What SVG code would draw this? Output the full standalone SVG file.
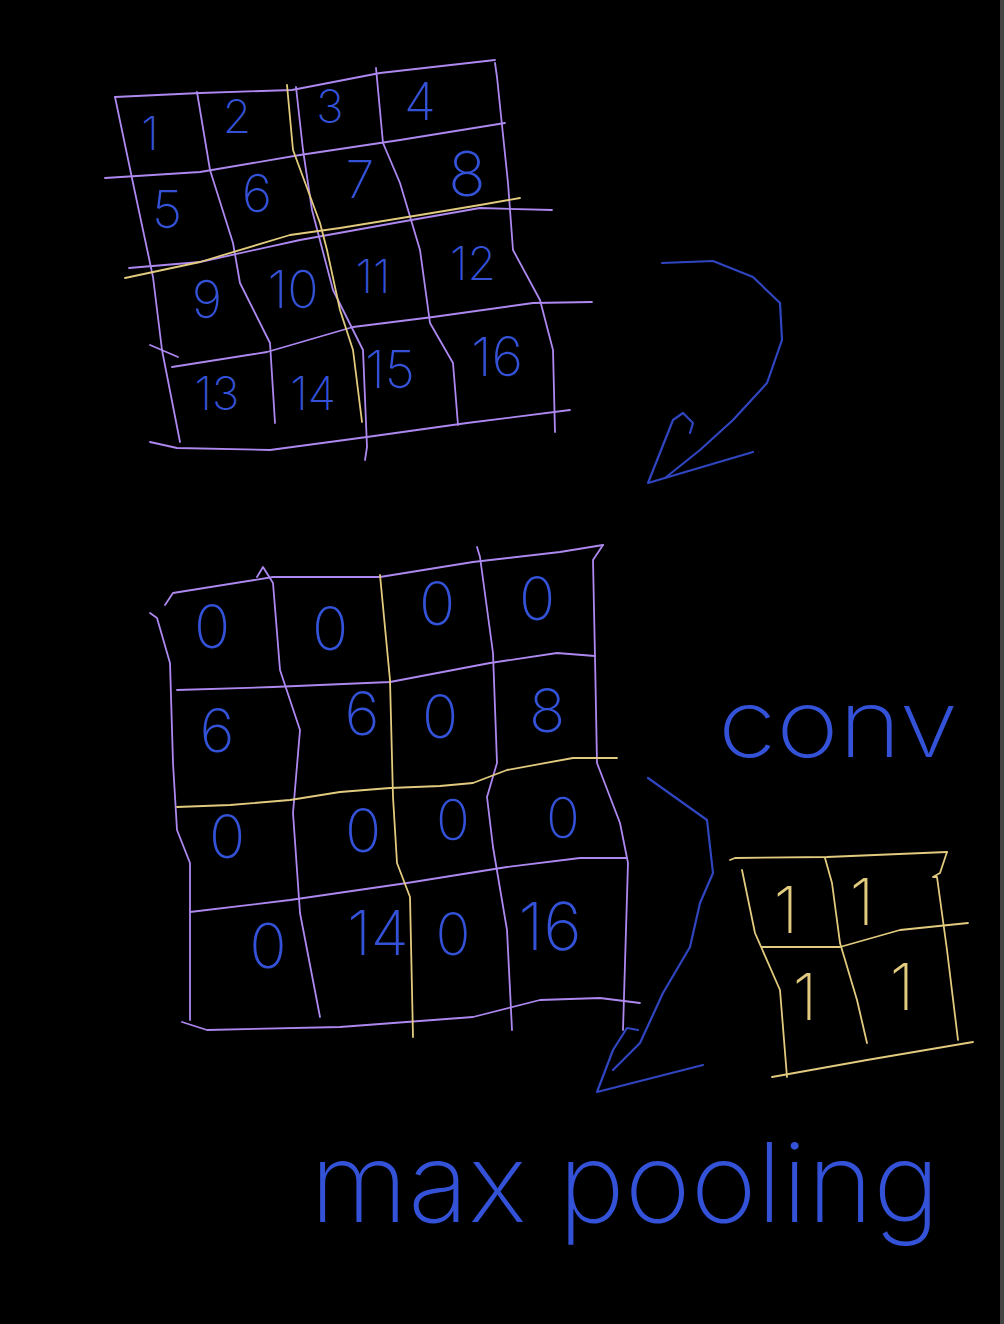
<svg xmlns="http://www.w3.org/2000/svg" width="1004" height="1324" viewBox="0 0 1004 1324">
<style>
.p{fill:none;stroke:#ad88f0;stroke-width:1.8;stroke-linecap:round;stroke-linejoin:round}
.y{fill:none;stroke:#e2cb7e;stroke-width:1.8;stroke-linecap:round;stroke-linejoin:round}
.a{fill:none;stroke:#3045c0;stroke-width:2.2;stroke-linecap:round;stroke-linejoin:round}
.d{font-family:Inter,"Liberation Sans",sans-serif;font-weight:200;fill:#3452d8;text-anchor:middle}
.k{font-family:Inter,"Liberation Sans",sans-serif;font-weight:200;fill:#e2cb7e;text-anchor:middle}
</style>
<rect width="1004" height="1324" fill="#000"/>
<rect x="1000" y="0" width="4" height="1324" fill="#444"/>
<g id="grid-input">
<polyline class="p" points="115,97 200,93 292,90 380,73 495,60"/>
<polyline class="p" points="105,178 200,172 300,155 400,140 505,123"/>
<polyline class="p" points="129,268 200,262 300,240 400,222 480,208 552,210"/>
<polyline class="p" points="150,345 178,357"/>
<polyline class="p" points="172,367 267,352 353,327 433,317 533,303 592,302"/>
<polyline class="p" points="150,442 177,448 270,450 367,437 467,423 570,410"/>
<polyline class="p" points="115,97 133,183 153,277 162,350 180,442"/>
<polyline class="p" points="197,92 210,170 233,243 240,283 270,343 275,423"/>
<polyline class="p" points="296,87 303,150 312,210 333,290 363,350 367,447 365,460"/>
<polyline class="p" points="376,68 383,143 400,183 420,250 430,323 453,363 458,425"/>
<polyline class="p" points="495,63 497,77 508,183 513,250 540,300 553,350 555,432"/>
<polyline class="y" points="125,278 200,262 290,235 340,228 420,215 480,205 520,198"/>
<polyline class="y" points="287,85 293,150 320,223 327,250 340,310 353,350 362,422"/>
<text class="d" x="150" y="150" font-size="46">1</text>
<text class="d" x="237" y="133" font-size="46">2</text>
<text class="d" x="330" y="123" font-size="46">3</text>
<text class="d" x="420" y="120" font-size="52">4</text>
<text class="d" x="167" y="228" font-size="52">5</text>
<text class="d" x="257" y="212" font-size="52">6</text>
<text class="d" x="360" y="198" font-size="52">7</text>
<text class="d" x="467" y="196" font-size="62">8</text>
<text class="d" x="207" y="318" font-size="52">9</text>
<text class="d" x="293" y="308" font-size="52">10</text>
<text class="d" x="373" y="293" font-size="46">11</text>
<text class="d" x="473" y="280" font-size="46">12</text>
<text class="d" x="217" y="410" font-size="46">13</text>
<text class="d" x="313" y="410" font-size="46">14</text>
<text class="d" x="390" y="388" font-size="52">15</text>
<text class="d" x="497" y="376" font-size="54">16</text>
</g>
<g id="grid-pooled">
<polyline class="p" points="165,605 173,593 273,577 380,577 473,562 560,552 603,545"/>
<polyline class="p" points="177,690 273,687 390,682 490,663 557,653 595,656"/>
<polyline class="p" points="190,912 290,900 407,883 507,867 580,858 627,858"/>
<polyline class="p" points="182,1022 207,1030 340,1027 473,1017 540,1000 600,998 640,1003"/>
<polyline class="p" points="150,613 157,618 170,663 173,763 177,830 190,863 190,1020"/>
<polyline class="p" points="257,577 263,567 273,583 280,670 300,730 293,813 300,913 320,1017"/>
<polyline class="p" points="477,547 480,557 493,653 497,763 487,797 493,847 507,930 512,1030"/>
<polyline class="p" points="603,545 593,560 595,657 597,763 620,823 628,863 623,1030"/>
<polyline class="y" points="177,807 230,805 290,800 340,792 390,788 440,786 473,783 507,770 573,758 617,758"/>
<polyline class="y" points="380,575 390,680 393,797 397,863 410,897 413,1037"/>
<text class="d" x="212" y="648" font-size="60">0</text>
<text class="d" x="330" y="650" font-size="60">0</text>
<text class="d" x="437" y="625" font-size="60">0</text>
<text class="d" x="537" y="620" font-size="60">0</text>
<text class="d" x="217" y="752" font-size="60">6</text>
<text class="d" x="362" y="735" font-size="60">6</text>
<text class="d" x="440" y="738" font-size="60">0</text>
<text class="d" x="547" y="732" font-size="60">8</text>
<text class="d" x="227" y="858" font-size="60">0</text>
<text class="d" x="363" y="852" font-size="60">0</text>
<text class="d" x="453" y="840" font-size="56">0</text>
<text class="d" x="563" y="838" font-size="56">0</text>
<text class="d" x="268" y="968" font-size="62">0</text>
<text class="d" x="378" y="955" font-size="62">14</text>
<text class="d" x="453" y="955" font-size="58">0</text>
<text class="d" x="550" y="950" font-size="66">16</text>
</g>
<g id="kernel">
<polyline class="y" points="730,860 735,858 827,857 947,852"/>
<polyline class="y" points="947,852 940,873 933,877 937,877 947,950 958,1040"/>
<polyline class="y" points="742,870 755,933 780,990 787,1077"/>
<polyline class="y" points="825,858 832,883 840,943 857,1000 867,1043"/>
<polyline class="y" points="762,947 840,947 900,930 968,923"/>
<polyline class="y" points="772,1077 867,1060 973,1042"/>
<text class="k" x="786" y="933" font-size="64">1</text>
<text class="k" x="862" y="925" font-size="64">1</text>
<text class="k" x="805" y="1020" font-size="64">1</text>
<text class="k" x="902" y="1010" font-size="64">1</text>
</g>
<g id="label-conv">
<text class="d" x="718" y="757" font-size="94" style="text-anchor:start" textLength="240" lengthAdjust="spacingAndGlyphs">conv</text>
</g>
<g id="label-maxpooling">
<text class="d" x="310" y="1222" font-size="110" style="text-anchor:start" textLength="630" lengthAdjust="spacingAndGlyphs">max pooling</text>
</g>
<g id="connectors">
<polyline class="a" points="662,263 713,261 753,277 780,303 782,340 767,383 733,420 700,450 665,478"/>
<polyline class="a" points="690,433 693,423 683,413 673,420 648,483 753,452"/>
<polyline class="a" points="648,778 707,820 713,873 700,903 690,947 663,993 640,1043 613,1070"/>
<polyline class="a" points="638,1030 627,1028 613,1050 597,1092 703,1065"/>
</g>
</svg>
